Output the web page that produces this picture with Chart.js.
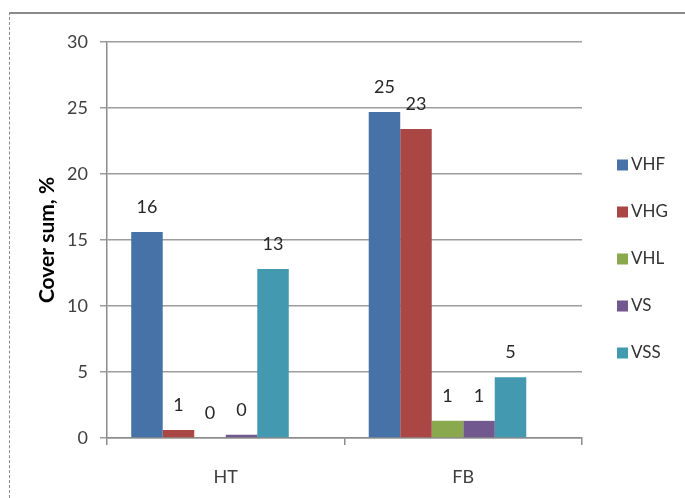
<!DOCTYPE html>
<html>
<head>
<meta charset="utf-8">
<script src="https://cdn.jsdelivr.net/npm/chart.js@4.4.1/dist/chart.umd.min.js"></script>
<style>
  html, body { margin: 0; padding: 0; background: #fff; }
  #wrap { position: relative; width: 685px; height: 498px; }
  #frame { position: absolute; left: 9px; top: 12px; width: 676px; height: 486px;
           border-top: 2px solid #8a8a8a; border-left: 1px dashed #8a8a8a; box-sizing: border-box; }
  canvas { position: absolute; left: 0; top: 0; }
</style>
</head>
<body>
<div id="wrap">
  <div id="frame"></div>
  <canvas id="myChart" width="685" height="498"></canvas>
</div>
<script>
// data
const categories = ['HT', 'FB'];
const seriesNames = ['VHF', 'VHG', 'VHL', 'VS', 'VSS'];
const seriesColors = ['#4672a8', '#aa4643', '#8aa84e', '#71598f', '#4299b0'];
const vhf = [15.6, 24.7];
const vhg = [0.6, 23.4];
const vhl = [0, 1.3];
const vs = [0.25, 1.3];
const vss = [12.8, 4.6];
const yTicks = [0, 5, 10, 15, 20, 25, 30];

const seriesValues = [vhf, vhg, vhl, vs, vss];
const fontFamily = 'Lato';

// value labels above each bar (rounded like the original)
const barLabels = {
    id: 'barLabels',
    afterDatasetsDraw(chart) {
        const ctx = chart.ctx;
        ctx.save();
        ctx.font = '18px ' + fontFamily;
        ctx.fillStyle = '#262626';
        ctx.textAlign = 'center';
        ctx.textBaseline = 'middle';
        chart.data.datasets.forEach((ds, i) => {
            if (!ds.label) return; // spacer
            chart.getDatasetMeta(i).data.forEach((bar, j) => {
                ctx.fillText(String(Math.round(ds.data[j])), bar.x, bar.y - 25);
            });
        });
        ctx.restore();
    }
};

// legend on the right, excel style
const sideLegend = {
    id: 'sideLegend',
    afterDraw(chart) {
        const ctx = chart.ctx;
        const x = chart.chartArea.right + 35;
        let y = 165;
        ctx.save();
        ctx.font = '17px ' + fontFamily;
        ctx.textBaseline = 'middle';
        ctx.textAlign = 'left';
        chart.data.datasets.forEach(ds => {
            if (!ds.label) return;
            ctx.fillStyle = ds.backgroundColor;
            ctx.fillRect(x, y - 5.5, 11, 11);
            ctx.fillStyle = '#333';
            ctx.fillText(ds.label, x + 14, y);
            y += 47;
        });
        ctx.restore();
    }
};

const datasets = seriesNames.map((name, i) => ({
    label: name,
    data: seriesValues[i],
    backgroundColor: seriesColors[i],
    borderWidth: 0
}));
// empty slot so the groups sit left of the category centre, like the original
datasets.push({ label: '', data: categories.map(() => 0), backgroundColor: 'rgba(0,0,0,0)', borderWidth: 0 });

var ctx = document.getElementById('myChart').getContext('2d');
var myChart = new Chart(ctx, {
    type: 'bar',
    data: {
        labels: categories,
        datasets: datasets
    },
    options: {
        responsive: false,
        animation: false,
        categoryPercentage: 0.796,
        barPercentage: 1.0,
        layout: {
            padding: { left: 35, right: 103, top: 42, bottom: 0 }
        },
        plugins: {
            legend: { display: false },
            tooltip: { enabled: false }
        },
        scales: {
            x: {
                afterFit: s => { s.height = 60; },
                border: { color: '#8c8c8c', width: 1.5 },
                grid: { drawOnChartArea: false, drawTicks: true, tickLength: 7, color: '#8c8c8c', lineWidth: 1.5 },
                ticks: { font: { family: fontFamily, size: 18 }, color: '#404040', padding: 21 }
            },
            y: {
                min: 0,
                max: 30,
                afterBuildTicks: axis => { axis.ticks = yTicks.map(v => ({ value: v })); },
                afterFit: s => { s.width = 72; },
                border: { color: '#8c8c8c', width: 1.5 },
                grid: { color: '#9c9c9c', lineWidth: 1.5, drawTicks: true, tickLength: 7 },
                ticks: { font: { family: fontFamily, size: 18 }, color: '#404040', padding: 12 },
                title: {
                    display: true,
                    text: 'Cover sum, %',
                    font: { family: fontFamily, size: 21, weight: 'bold' },
                    color: '#000',
                    padding: 0
                }
            }
        }
    },
    plugins: [barLabels, sideLegend]
});
</script>
</body>
</html>
